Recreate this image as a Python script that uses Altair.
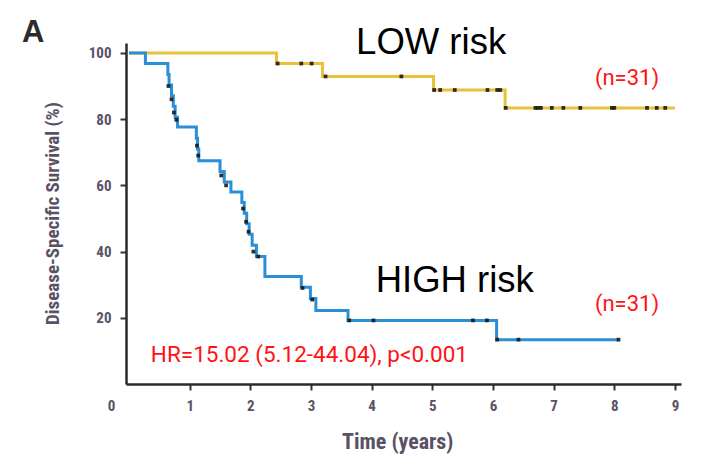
import altair as alt
import pandas as pd

# ---------------- data ----------------
low_t = [0, 2.43, 3.19, 5.02, 6.20, 9.00]
low_s = [100, 96.8, 92.9, 88.8, 83.4, 83.4]

high_t = [0, 0.27, 0.64, 0.66, 0.70, 0.73, 0.76, 0.80, 1.11, 1.13, 1.15, 1.50, 1.57,
          1.68, 1.86, 1.90, 1.94, 1.98, 2.03, 2.10, 2.24, 2.84, 2.99, 3.08, 3.61,
          6.06, 8.07]
high_s = [100, 96.8, 93.5, 90.3, 87.1, 83.9, 80.6, 77.6, 74.2, 71.0, 67.4, 64.2, 61.0,
          58.0, 54.8, 51.6, 48.4, 45.2, 41.9, 38.5, 32.5, 29.2, 25.8, 22.2, 19.2,
          13.4, 13.4]

low_cens_t = [2.45, 2.84, 3.01, 3.24, 4.49, 5.03, 5.13, 5.37, 5.91, 6.07, 6.12,
              6.21, 6.70, 6.74, 6.79, 6.97, 7.16, 7.44, 7.96, 8.00, 8.54, 8.70, 8.84]
low_cens_s = [96.8, 96.8, 96.8, 92.9, 92.9, 88.8, 88.8, 88.8, 88.8, 88.8, 88.8,
              83.4, 83.4, 83.4, 83.4, 83.4, 83.4, 83.4, 83.4, 83.4, 83.4, 83.4, 83.4]

high_cens_t = [0.65, 0.70, 0.74, 0.78, 1.12, 1.14, 1.52, 1.60, 1.88, 1.93, 1.97,
               2.05, 2.13, 2.86, 3.02, 3.63, 4.03, 5.67, 5.90, 6.07, 6.42, 8.07]
high_cens_s = [90.0, 86.0, 82.0, 79.8, 72.0, 69.0, 63.0, 60.0, 53.0, 49.0, 46.0,
               40.0, 38.5, 29.0, 25.5, 19.2, 19.2, 19.2, 19.2, 13.4, 13.4, 13.4]

x_ticks = [1, 2, 3, 4, 5, 6, 7, 8, 9]
y_ticks = [20, 40, 60, 80, 100]
groups = ["LOW", "HIGH"]

risk_labels = ["LOW risk", "HIGH risk"]
n_labels = ["(n=31)", "(n=31)"]
hr_label = ["HR=15.02 (5.12-44.04), p<0.001"]
panel_label = ["A"]
y_title = ["Disease-Specific Survival (%)"]
x_title = ["Time (years)"]
zero_label = ["0"]

# ---------------- style ----------------
YELLOW = "#e8c23a"
BLUE = "#2a8fd6"
RED = "#ff1212"
AXIS_TXT = "#5a5264"
NARROW = "Liberation Sans Narrow, Roboto Condensed, Roboto, sans-serif"

xs = alt.Scale(domain=[-0.05, 9.1], nice=False, zero=False)
ys = alt.Scale(domain=[0, 103], nice=False, zero=False)

curves = pd.DataFrame(
    {"t": low_t + high_t,
     "s": low_s + high_s,
     "group": [groups[0]] * len(low_t) + [groups[1]] * len(high_t)}
)
cens = pd.DataFrame(
    {"t": low_cens_t + high_cens_t,
     "s": low_cens_s + high_cens_s}
)

lines = alt.Chart(curves).mark_line(interpolate="step-after", strokeWidth=3).encode(
    x=alt.X("t:Q", scale=xs,
            axis=alt.Axis(values=x_ticks, format="d", title=None, grid=False,
                          domainColor="#2a2a2a", domainWidth=2.5,
                          tickColor="#333333", tickWidth=2, tickSize=6,
                          labelFont=NARROW, labelFontSize=15, labelFontWeight="bold",
                          labelColor=AXIS_TXT, labelPadding=8)),
    y=alt.Y("s:Q", scale=ys,
            axis=alt.Axis(values=y_ticks, format="d", title=None, grid=False,
                          domainColor="#2a2a2a", domainWidth=2.5,
                          tickColor="#333333", tickWidth=2, tickSize=6,
                          labelFont=NARROW, labelFontSize=15, labelFontWeight="bold",
                          labelColor=AXIS_TXT, labelPadding=9)),
    color=alt.Color("group:N", scale=alt.Scale(domain=groups, range=[YELLOW, BLUE]),
                    legend=None),
)

marks = alt.Chart(cens).mark_square(size=14, color="#1a1a1a", opacity=0.9).encode(
    x=alt.X("t:Q", scale=xs), y=alt.Y("s:Q", scale=ys)
)


def text_layer(texts, ts, ss, **kw):
    df = pd.DataFrame({"label": texts, "t": ts, "s": ss})
    return alt.Chart(df).mark_text(**kw).encode(
        x=alt.X("t:Q", scale=xs), y=alt.Y("s:Q", scale=ys), text="label:N"
    )


risk_txt = text_layer(risk_labels, [4.98, 5.37], [99.8, 27.8],
                      font="Liberation Sans, Arial, sans-serif", fontSize=36.5,
                      color="#000000", align="center", baseline="alphabetic")
n_txt = text_layer(n_labels, [8.21, 8.21], [90.2, 21.9],
                   font="Roboto, sans-serif", fontSize=22, color=RED,
                   align="center", baseline="alphabetic")
hr_txt = text_layer(hr_label, [0.36], [6.5],
                    font="Roboto, sans-serif", fontSize=22.5, color=RED,
                    align="left", baseline="alphabetic")
a_txt = text_layer(panel_label, [-1.58], [103.3],
                   font="Liberation Sans, Arial, sans-serif", fontSize=31,
                   fontWeight="bold", color="#2b2b2b", align="center",
                   baseline="alphabetic")
ytitle_txt = text_layer(y_title, [-1.25], [51.5], font=NARROW, fontSize=19,
                        fontWeight="bold", color=AXIS_TXT, align="center",
                        baseline="middle", angle=270)
xtitle_txt = text_layer(x_title, [4.43], [-17.4], font=NARROW, fontSize=22,
                        fontWeight="bold", color=AXIS_TXT, align="center",
                        baseline="middle")
zero_txt = text_layer(zero_label, [-0.29], [-6.5], font=NARROW, fontSize=15,
                      fontWeight="bold", color=AXIS_TXT, align="center",
                      baseline="middle")

chart = alt.layer(
    lines, marks, risk_txt, n_txt, hr_txt, a_txt, ytitle_txt, xtitle_txt, zero_txt
).properties(
    width=555,
    height=341,
    autosize=alt.AutoSizeParams(type="none"),
    padding={"left": 118, "top": 35, "right": 15, "bottom": 76},
    background="white",
).configure_view(stroke=None)

chart.save("out.html", embed_options={"renderer": "svg", "actions": False})
